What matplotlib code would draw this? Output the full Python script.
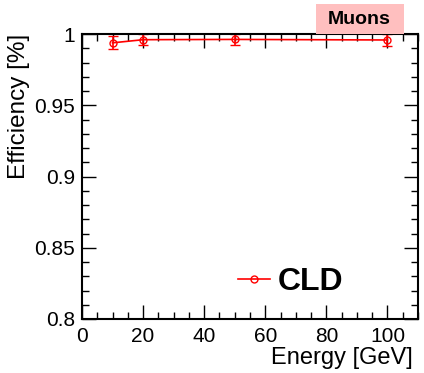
import matplotlib
matplotlib.use("Agg")
import matplotlib.pyplot as plt
from matplotlib.ticker import MultipleLocator
from matplotlib.lines import Line2D
from matplotlib.patches import Rectangle

plt.rcParams['font.family'] = ['Liberation Sans', 'DejaVu Sans']

energy = [10, 20, 50, 100]
efficiency = [0.9938, 0.9960, 0.9962, 0.9958]
eff_err = [0.0045, 0.0040, 0.0040, 0.0040]
label = "CLD"
particle = "Muons"

W, H = 424, 373
fig = plt.figure(figsize=(W/100, H/100), dpi=100)
ax = fig.add_axes([82/W, 1-319/H, (418-82)/W, (319-34)/H])
ax.errorbar(energy, efficiency, yerr=eff_err, color='red', marker='o', ms=5,
            mfc='none', mec='red', mew=1, lw=1.2, capsize=3.5, elinewidth=1.2)
ax.set_xlim(0, 110)
ax.set_ylim(0.8, 1.0)
ax.xaxis.set_major_locator(MultipleLocator(20))
ax.xaxis.set_minor_locator(MultipleLocator(5))
ax.yaxis.set_minor_locator(MultipleLocator(0.01))
ax.set_yticks([0.8, 0.85, 0.9, 0.95, 1.0])
ax.set_yticklabels(['0.8', '0.85', '0.9', '0.95', '1'])
ax.tick_params(which='both', direction='in', top=True, right=True, labelsize=15, width=1)
ax.tick_params(which='major', length=10)
ax.tick_params(which='minor', length=5)
ax.tick_params(axis='x', pad=6)
ax.tick_params(axis='y', pad=5)
for s in ax.spines.values():
    s.set_linewidth(1.5)

fig.text(413/W, 1-358/H, "Energy [GeV]", ha='right', va='center', fontsize=17)
fig.text(19/W, 1-34/H, "Efficiency [%]", ha='center', va='top', rotation=90, fontsize=17.5)

fig.patches.append(Rectangle((316/W, 1-33.5/H), 88/W, 29.5/H, transform=fig.transFigure,
                             fc='#ffbfbf', ec='none', zorder=0))
fig.text(359/W, 1-19/H, particle, ha='center', va='center', fontsize=14, fontweight='bold')

leg = fig.legend([Line2D([0], [0], color='red', marker='o', ms=5, mfc='none', lw=1.2)], [label],
                 loc='center left', bbox_to_anchor=(238/W, 1-282/H), frameon=False,
                 prop={'size': 23, 'weight': 'bold'}, borderpad=0, borderaxespad=0,
                 handlelength=1.0, handletextpad=0.25)

fig.savefig("out.png", dpi=100)
